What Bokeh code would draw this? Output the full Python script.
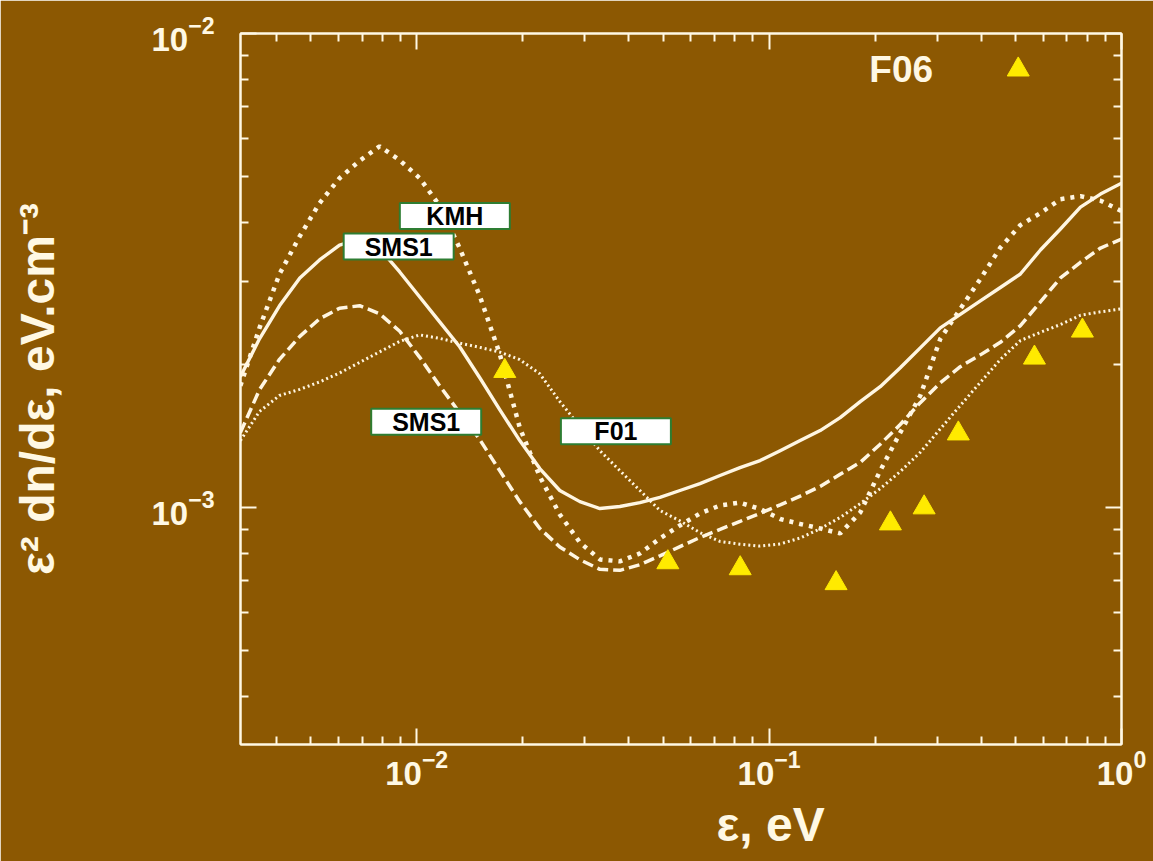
from bokeh.plotting import figure
from bokeh.models import Range1d, LogAxis, FixedTicker, Label, Title, CustomJSTickFormatter
from bokeh.core.properties import value
from bokeh.embed import file_html
from bokeh.resources import INLINE

# ---------------- data ----------------
energy = [0.00316, 0.00358, 0.00408, 0.00466, 0.00530, 0.00604, 0.00689, 0.00785, 0.00895, 0.01020,
          0.01162, 0.01324, 0.01510, 0.01720, 0.01961, 0.02235, 0.02547, 0.02904, 0.03310, 0.03772,
          0.04300, 0.04901, 0.05586, 0.06367, 0.07257, 0.08271, 0.09428, 0.1075, 0.1225, 0.1396,
          0.1591, 0.1814, 0.2067, 0.2356, 0.2685, 0.3061, 0.3488, 0.3976, 0.4532, 0.5165,
          0.5887, 0.6710, 0.7648, 0.8717, 1.0]

# values in units of 1e-3 eV cm^-3
sms1_solid = [1.887, 2.269, 2.663, 3.050, 3.328, 3.579, 3.685, 3.518, 3.140, 2.781,
              2.464, 2.183, 1.878, 1.608, 1.384, 1.208, 1.086, 1.029, 0.995, 1.005,
              1.024, 1.050, 1.086, 1.123, 1.168, 1.214, 1.256, 1.318, 1.384, 1.453,
              1.547, 1.672, 1.798, 1.971, 2.172, 2.393, 2.555, 2.728, 2.912, 3.109,
              3.493, 3.868, 4.302, 4.583, 4.833]

kmh = [1.806, 2.393, 3.109, 3.738, 4.386, 4.952, 5.390, 5.782, 5.403, 4.952,
       4.331, 3.527, 2.795, 2.110, 1.474, 1.162, 0.9667, 0.8438, 0.7772, 0.7698,
       0.8000, 0.8603, 0.9165, 0.9714, 1.010, 1.024, 0.9928, 0.9458, 0.9232, 0.9033,
       0.8816, 0.9761, 1.196, 1.439, 1.721, 2.269, 2.624, 3.034, 3.535, 3.943,
       4.179, 4.472, 4.538, 4.440, 4.220]

sms1_dashed = [1.439, 1.772, 2.054, 2.296, 2.500, 2.633, 2.665, 2.563, 2.354, 2.074,
               1.806, 1.585, 1.391, 1.196, 1.029, 0.9033, 0.8257, 0.7762, 0.7405, 0.7369,
               0.7575, 0.7909, 0.8270, 0.8646, 0.8990, 0.9348, 0.9723, 1.013, 1.057, 1.108,
               1.175, 1.245, 1.360, 1.497, 1.664, 1.833, 1.982, 2.099, 2.231, 2.419,
               2.715, 3.050, 3.291, 3.527, 3.685]

f01 = [1.384, 1.594, 1.723, 1.775, 1.840, 1.922, 2.024, 2.130, 2.241, 2.313,
       2.274, 2.222, 2.177, 2.128, 2.051, 1.915, 1.674, 1.483, 1.318, 1.196,
       1.086, 0.9856, 0.9371, 0.8850, 0.8479, 0.8369, 0.8290, 0.8378, 0.8621, 0.9019,
       0.9527, 1.019, 1.096, 1.191, 1.307, 1.465, 1.642, 1.836, 2.053, 2.250,
       2.342, 2.432, 2.544, 2.587, 2.624]

f06_energy = [0.01778, 0.0516, 0.0828, 0.1549, 0.2209, 0.2754, 0.3443, 0.5093, 0.5662, 0.7745]
f06_value = [1.94e-3, 7.66e-4, 7.44e-4, 6.92e-4, 9.25e-4, 1.0e-3, 1.432e-3, 8.39e-3, 2.07e-3, 2.36e-3]

label_text = ["KMH", "SMS1", "SMS1", "F01"]
label_energy = [0.01283, 0.008889, 0.01064, 0.03675]
label_value = [4.119e-3, 3.552e-3, 1.517e-3, 1.449e-3]

x_major = [0.01, 0.1, 1.0]
x_minor = [0.004, 0.005, 0.006, 0.007, 0.008, 0.009,
           0.02, 0.03, 0.04, 0.05, 0.06, 0.07, 0.08, 0.09,
           0.2, 0.3, 0.4, 0.5, 0.6, 0.7, 0.8, 0.9]
y_major = [1e-3, 1e-2]
y_minor = [4e-4, 5e-4, 6e-4, 7e-4, 8e-4, 9e-4,
           2e-3, 3e-3, 4e-3, 5e-3, 6e-3, 7e-3, 8e-3, 9e-3]

x_title = "ε, eV"
y_title = "ε² dn/dε, eV.cm⁻³"

# ---------------- styling ----------------
BG = "#8C5802"
FG = "#FFF8E4"
LINE = "#FFF6E2"
FONT = "Liberation Sans"


def scale(vals):
    return [v * 1e-3 for v in vals]


p = figure(width=1153, height=861, x_axis_type="log", y_axis_type="log",
           x_range=Range1d(10 ** -2.5, 1.0), y_range=Range1d(10 ** -3.5, 1e-2),
           output_backend="svg", toolbar_location=None,
           background_fill_color=BG, border_fill_color=BG,
           min_border_left=240, min_border_right=32, min_border_top=33, min_border_bottom=117)
p.grid.visible = False
p.outline_line_color = FG
p.outline_line_width = 2

# axes on all four sides with inward ticks
p.add_layout(LogAxis(), "above")
p.add_layout(LogAxis(), "right")
for ax in p.xaxis:
    ax.ticker = FixedTicker(ticks=x_major, minor_ticks=x_minor)
for ax in p.yaxis:
    ax.ticker = FixedTicker(ticks=y_major, minor_ticks=y_minor)
for ax in p.xaxis + p.yaxis:
    ax.axis_line_color = FG
    ax.axis_line_width = 2
    ax.major_tick_line_color = FG
    ax.minor_tick_line_color = FG
    ax.major_tick_line_width = 2
    ax.minor_tick_line_width = 2
    ax.major_tick_in = 16
    ax.major_tick_out = 0
    ax.minor_tick_in = 8
    ax.minor_tick_out = 0
    ax.major_label_text_color = FG
    ax.major_label_text_font = FONT
    ax.major_label_text_font_style = "bold"
    ax.major_label_text_font_size = "33px"
p.xaxis[0].major_label_standoff = 20
p.yaxis[0].major_label_standoff = 26
# top / right axes: ticks only
for ax in (p.above[0], p.right[0]):
    ax.formatter = CustomJSTickFormatter(code="return ''")

# y axis title
yax = p.yaxis[0]
yax.axis_label = y_title
yax.axis_label_text_font = FONT
yax.axis_label_text_font_style = "bold"
yax.axis_label_text_font_size = "48px"
yax.axis_label_text_color = FG
yax.axis_label_standoff = 84

# x axis title (placed under the 10^-1 tick like the reference)
p.add_layout(Title(text=x_title, align="left", offset=476, text_font=FONT,
                   text_font_style="bold", text_font_size="48px", text_color=FG,
                   standoff=16), "below")

# curves
p.line(energy, scale(kmh), line_color=LINE, line_width=4.5, line_dash="4 6", line_cap="butt")
p.line(energy, scale(f01), line_color=LINE, line_width=3, line_dash="2 3")
p.line(energy, scale(sms1_dashed), line_color=LINE, line_width=3.5, line_dash="11 5")
p.line(energy, scale(sms1_solid), line_color=LINE, line_width=3.4, line_join="round")

# F06 points
p.scatter(f06_energy, f06_value, marker="triangle", size=22, fill_color="#FFEA00",
          line_color="#FFEA00")

# boxed labels
p.rect(x=label_energy, y=label_value, width=110, height=26, width_units="screen",
       height_units="screen", fill_color="white", line_color="#2E7D32", line_width=2)
p.text(x=label_energy, y=label_value, text=label_text, text_font=value(FONT),
       text_font_style="bold", text_font_size="25px", text_align="center",
       text_baseline="middle", text_color="black")

# F06 legend text
p.add_layout(Label(x=0.2371, y=8.40e-3, text="F06", text_font=FONT, text_font_style="bold",
                   text_font_size="37px", text_color=FG, text_align="center",
                   text_baseline="middle"))

open("out.html", "w").write(file_html(p, INLINE))
